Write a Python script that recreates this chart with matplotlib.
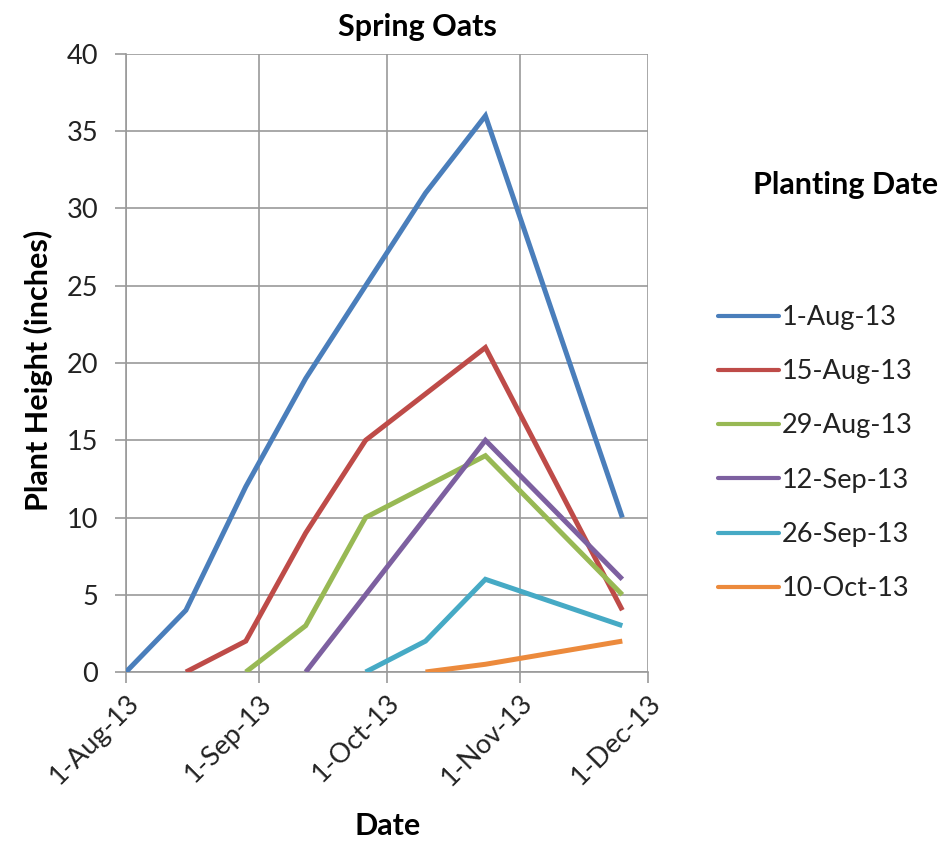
import matplotlib
matplotlib.use("Agg")
import matplotlib.pyplot as plt
import pandas as pd
from matplotlib.lines import Line2D

plt.rcParams['font.family'] = ['Lato', 'DejaVu Sans']

# Measurement dates (every two weeks, plus a final reading in late November)
measure_dates = ["2013-08-01", "2013-08-15", "2013-08-29", "2013-09-12",
                 "2013-09-26", "2013-10-10", "2013-10-24", "2013-11-25"]

planting_labels = ["1-Aug-13", "15-Aug-13", "29-Aug-13",
                   "12-Sep-13", "26-Sep-13", "10-Oct-13"]

# Plant height (inches); each planting starts at its own planting date
h_aug01 = [0, 4, 12, 19, 25, 31, 36, 10]
h_aug15 = [0, 2, 9, 15, 18, 21, 4]
h_aug29 = [0, 3, 10, 12, 14, 5]
h_sep12 = [0, 5, 10, 15, 6]
h_sep26 = [0, 2, 6, 3]
h_oct10 = [0, 0.5, 2]

heights = [h_aug01, h_aug15, h_aug29, h_sep12, h_sep26, h_oct10]

colors = ["#4A7EBB", "#BE4B48", "#98B954", "#7D60A0", "#46AAC5", "#EC8A3C"]

x_tick_dates = ["2013-08-01", "2013-09-01", "2013-10-01", "2013-11-01", "2013-12-01"]
x_tick_labels = ["1-Aug-13", "1-Sep-13", "1-Oct-13", "1-Nov-13", "1-Dec-13"]
y_ticks = [0, 5, 10, 15, 20, 25, 30, 35, 40]

W, H = 952, 843
fig = plt.figure(figsize=(W / 100, H / 100), dpi=100)
ax = fig.add_axes([126 / W, 1 - 672 / H, 522 / W, 618 / H])

dates = pd.to_datetime(measure_dates)
handles = []
for vals, col, lab in zip(heights, colors, planting_labels):
    d = dates[len(dates) - len(vals):]
    ax.plot(d, vals, color=col, lw=3.6, solid_capstyle='butt',
            solid_joinstyle='miter', label=lab, zorder=3)
    handles.append(Line2D([0], [0], color=col, lw=3.0, solid_capstyle='round'))

xt = pd.to_datetime(x_tick_dates)
ax.set_xlim(xt[0], xt[-1])
ax.set_ylim(0, 40)
ax.set_xticks(xt)
ax.set_xticklabels(x_tick_labels, rotation=45, ha='right', va='top',
                   rotation_mode='anchor', fontsize=19.5, color='#222222')
ax.set_yticks(y_ticks)
ax.set_yticklabels([str(v) for v in y_ticks], fontsize=19.5, color='#222222')

grid_col = "#9a9a9a"
ax.grid(True, color=grid_col, lw=1.2)
ax.set_axisbelow(True)
for s in ["top", "right"]:
    ax.spines[s].set_visible(False)
for s in ["left", "bottom"]:
    ax.spines[s].set_color(grid_col)
    ax.spines[s].set_linewidth(1.2)
ax.tick_params(axis='both', color=grid_col, width=1.2, length=8)
ax.tick_params(axis='y', pad=12)
ax.tick_params(axis='x', pad=5)

bold = dict(fontsize=22, fontweight='bold', color='black')
fig.text(417 / W, 1 - 27 / H, "Spring Oats", ha='center', va='center', **bold)
fig.text(38 / W, 1 - 370 / H, "Plant Height (inches)", ha='center', va='center',
         rotation=90, **bold)
fig.text(388 / W, 1 - 826 / H, "Date", ha='center', va='center', **bold)
fig.text(846 / W, 1 - 185 / H, "Planting Date", ha='center', va='center', **bold)

fig.legend(handles, planting_labels, loc='upper left',
           bbox_to_anchor=(718 / W, 1 - 305 / H), frameon=False,
           fontsize=19.5, handlelength=2.25, handletextpad=0.1,
           labelspacing=1.08, borderaxespad=0, borderpad=0,
           labelcolor='#222222')

fig.savefig("out.png", dpi=100)
